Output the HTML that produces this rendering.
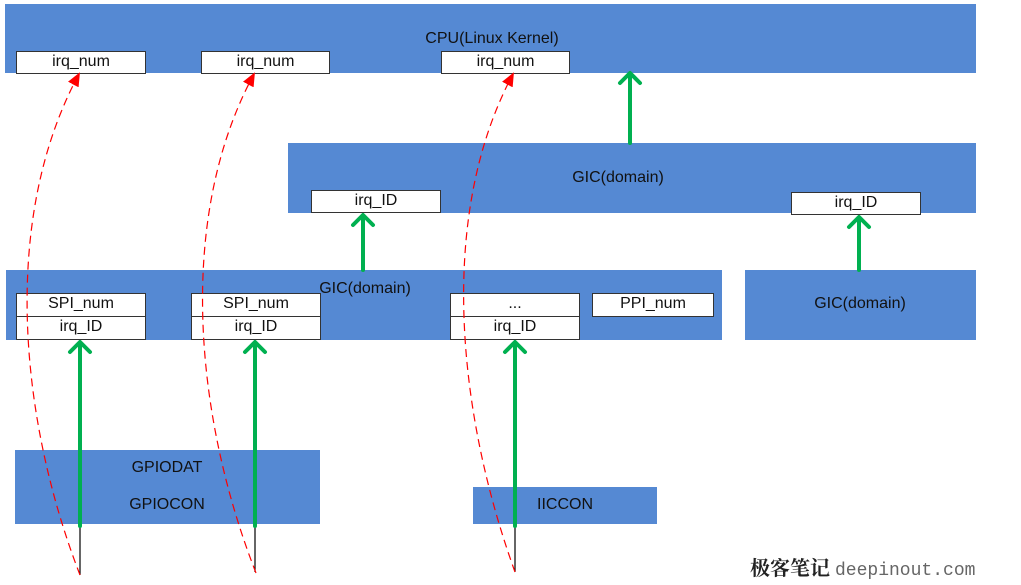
<!DOCTYPE html>
<html><head><meta charset="utf-8"><style>
body{margin:0;width:1021px;height:585px;background:#fff;position:relative;overflow:hidden;font-family:"Liberation Sans","Noto Sans CJK SC",sans-serif;}
.b{position:absolute;background:#5589d3;}
.w{position:absolute;background:#fff;border:1.5px solid #333;box-sizing:border-box;font-size:16px;text-align:center;line-height:20px;color:#111;}
.t{position:absolute;font-size:16px;color:#111;transform:translateX(-50%);white-space:nowrap;}
svg{position:absolute;left:0;top:0;}
</style></head><body>
<div class="b" style="left:5px;top:4px;width:971px;height:69px"></div>
<div class="t" style="left:492px;top:30px">CPU(Linux Kernel)</div>
<div class="w" style="left:16px;top:51px;width:130px;height:23px">irq_num</div>
<div class="w" style="left:201px;top:51px;width:129px;height:23px">irq_num</div>
<div class="w" style="left:441px;top:51px;width:129px;height:23px">irq_num</div>

<div class="b" style="left:288px;top:143px;width:688px;height:70px"></div>
<div class="t" style="left:618px;top:169px">GIC(domain)</div>
<div class="w" style="left:311px;top:190px;width:130px;height:23px">irq_ID</div>
<div class="w" style="left:791px;top:192px;width:130px;height:23px">irq_ID</div>

<div class="b" style="left:6px;top:270px;width:716px;height:70px"></div>
<div class="t" style="left:365px;top:280px">GIC(domain)</div>
<div class="w" style="left:16px;top:293px;width:130px;height:24px">SPI_num</div>
<div class="w" style="left:16px;top:316px;width:130px;height:24px">irq_ID</div>
<div class="w" style="left:191px;top:293px;width:130px;height:24px">SPI_num</div>
<div class="w" style="left:191px;top:316px;width:130px;height:24px">irq_ID</div>
<div class="w" style="left:450px;top:293px;width:130px;height:24px">...</div>
<div class="w" style="left:450px;top:316px;width:130px;height:24px">irq_ID</div>
<div class="w" style="left:592px;top:293px;width:122px;height:24px">PPI_num</div>

<div class="b" style="left:745px;top:270px;width:231px;height:70px"></div>
<div class="t" style="left:860px;top:295px">GIC(domain)</div>

<div class="b" style="left:15px;top:450px;width:305px;height:74px"></div>
<div class="t" style="left:167px;top:459px">GPIODAT</div>
<div class="t" style="left:167px;top:496px">GPIOCON</div>
<div class="b" style="left:473px;top:487px;width:184px;height:37px"></div>
<div class="t" style="left:565px;top:496px">IICCON</div>

<svg width="1021" height="585">
<defs>
<marker id="r" markerWidth="14" markerHeight="12" refX="12" refY="6" orient="auto" markerUnits="userSpaceOnUse"><path d="M0,0 L14,6 L0,12 Z" fill="#f00"/></marker>
</defs>
<g stroke="#000" stroke-width="1.2">
<line x1="80" y1="524" x2="80" y2="575"/>
<line x1="255" y1="524" x2="255" y2="572"/>
<line x1="515" y1="524" x2="515" y2="572"/>
</g>
<g stroke="#f00" stroke-width="1.2" fill="none" stroke-dasharray="8,5" marker-end="url(#r)">
<path d="M80,575 C20,420 0,220 79,74"/>
<path d="M256,573 C196,420 175,220 254,74"/>
<path d="M515,572 C460,420 435,220 513,74"/>
</g>
<g stroke="#00b050" stroke-width="4" fill="none" stroke-linecap="round" stroke-linejoin="round">
<line x1="80" y1="526" x2="80" y2="343"/><path d="M70,352 L80,342 L90,352"/>
<line x1="255" y1="526" x2="255" y2="343"/><path d="M245,352 L255,342 L265,352"/>
<line x1="515" y1="526" x2="515" y2="343"/><path d="M505,352 L515,342 L525,352"/>
<line x1="363" y1="270" x2="363" y2="216"/><path d="M353,225 L363,215 L373,225"/>
<line x1="859" y1="270" x2="859" y2="218"/><path d="M849,227 L859,217 L869,227"/>
<line x1="630" y1="143" x2="630" y2="74"/><path d="M620,83 L630,73 L640,83"/>
</g>
<text x="750" y="575" font-family="Noto Serif CJK SC,serif" font-size="20" font-weight="bold" fill="#222">极客笔记</text>
<text x="835" y="575" font-family="Liberation Mono,monospace" font-size="18" fill="#666">deepinout.com</text>
</svg>
</body></html>
